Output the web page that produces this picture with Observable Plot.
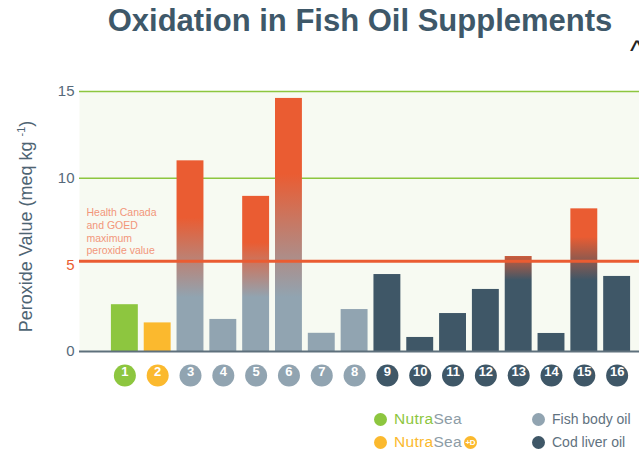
<!DOCTYPE html>
<html>
<head>
<meta charset="utf-8">
<script src="https://cdn.jsdelivr.net/npm/d3@7"></script>
<script src="https://cdn.jsdelivr.net/npm/@observablehq/plot@0.6"></script>
<style>
  body { margin: 0; background: #fff; font-family: "Liberation Sans", Arial, sans-serif; }
  #wrap { position: relative; width: 639px; height: 452px; overflow: hidden; }
  #title { position: absolute; left: 360px; top: 5px; transform: translateX(-50%); white-space: nowrap;
           font-size: 31px; line-height: 31px; font-weight: bold; color: #3e5869; }
  #caret { position: absolute; left: 630px; top: 36px; font-size: 30px; line-height: 30px; color: #222; }
  #chart { position: absolute; left: 0; top: 60px; }
  .lg { position: absolute; display: flex; align-items: center; height: 16px; white-space: nowrap; }
  .dot { display: inline-block; width: 13px; height: 13px; border-radius: 50%; margin-right: 7px; }
  .lt { font-size: 14px; color: #5f7280; }
  .brand { font-size: 15.5px; letter-spacing: 0.3px; }
  .sea { color: #8d9ca6; }
  .badge { display: inline-block; width: 13px; height: 13px; border-radius: 50%; background: #fbb92e; color: #fff;
           font-size: 8px; font-weight: bold; line-height: 13px; text-align: center; margin-left: 2px; letter-spacing: -0.3px; }
</style>
</head>
<body>
<div id="wrap">
  <div id="title"></div>
  <div id="caret">^</div>
  <div id="chart"></div>
  <div id="legend"></div>
</div>
<script>
// ---- data ----
const chartTitle = "Oxidation in Fish Oil Supplements";
const productIds = [1, 2, 3, 4, 5, 6, 7, 8, 9, 10, 11, 12, 13, 14, 15, 16];
const peroxideValues = [2.7, 1.65, 11.0, 1.85, 8.95, 14.6, 1.05, 2.42, 4.44, 0.81, 2.19, 3.58, 5.48, 1.04, 8.23, 4.33];
const productTypes = [
  "NutraSea", "NutraSea+D",
  "Fish body oil", "Fish body oil", "Fish body oil", "Fish body oil", "Fish body oil", "Fish body oil",
  "Cod liver oil", "Cod liver oil", "Cod liver oil", "Cod liver oil", "Cod liver oil", "Cod liver oil", "Cod liver oil", "Cod liver oil"
];
const yTicks = [0, 5, 10, 15];
const gridValues = [10, 15];
const limitValue = 5.2;
const limitTickValue = 5;
const limitNote = "Health Canada\nand GOED\nmaximum\nperoxide value";
const yLabelMain = "Peroxide Value (meq kg ";
const yLabelSup = "-1";
const yLabelEnd = ")";
const legendTypes = ["NutraSea", "NutraSea+D", "Fish body oil", "Cod liver oil"];

// ---- styles ----
const typeColors = {
  "NutraSea": "#8dc63f",
  "NutraSea+D": "#fbb92e",
  "Fish body oil": "#91a4b1",
  "Cod liver oil": "#3f5767"
};
const orange = "#ea5c32";
const tickGray = "#56697a";

document.getElementById("title").textContent = chartTitle;

const table = productIds.map((id, i) => ({
  id, value: peroxideValues[i], type: productTypes[i],
  fill: peroxideValues[i] > limitValue ? `url(#grad${id})` : typeColors[productTypes[i]]
}));

const chart = Plot.plot({
  width: 639,
  height: 330,
  marginLeft: 79,
  marginRight: 0,
  marginTop: 31,
  marginBottom: 39,
  style: { fontFamily: "Liberation Sans, Arial, sans-serif", background: "transparent", overflow: "visible" },
  x: { type: "band", domain: productIds, range: [105, 636], padding: 0.18, round: false, axis: null },
  y: { domain: [0, 15] },
  color: { type: "identity" },
  marks: [
    Plot.frame({ fill: "#f7faf2", stroke: "none" }),
    Plot.ruleY(gridValues, { stroke: "#8dc63f", strokeWidth: 1.5 }),
    Plot.barY(table, { x: "id", y: "value", fill: "fill" }),
    Plot.ruleY([0], { stroke: "#5e707c", strokeWidth: 2 }),
    Plot.ruleY([limitValue], { stroke: orange, strokeWidth: 3 }),
    Plot.axisY(yTicks, {
      tickSize: 0, tickPadding: 5, fontSize: 15, label: null,
      fill: d => d === limitTickValue ? orange : tickGray
    }),
    Plot.text([limitNote], {
      text: d => d, frameAnchor: "left", y: 6.95, dx: 7, textAnchor: "start",
      lineAnchor: "middle", fontSize: 10.5, lineHeight: 1.22, fill: "#f2967a"
    }),
    Plot.dot(table, { x: "id", frameAnchor: "bottom", dy: 24, r: 11, fill: d => typeColors[d.type] }),
    Plot.text(table, {
      x: "id", text: d => String(d.id), frameAnchor: "bottom", dy: 24,
      fill: "white", fontSize: 13, fontWeight: "bold"
    })
  ]
});

// gradients for bars above the limit
const ys = chart.scale("y");
const svg = d3.select(chart);
const defs = svg.insert("defs", ":first-child");
table.filter(d => d.value > limitValue).forEach(d => {
  const isCod = d.type === "Cod liver oil";
  const low = isCod ? 4.1 : 3.1;
  const high = isCod ? Math.max(0.8 * d.value, 5.8) : Math.max(0.7 * d.value, 5.6);
  const g = defs.append("linearGradient")
    .attr("id", `grad${d.id}`)
    .attr("gradientUnits", "userSpaceOnUse")
    .attr("x1", 0).attr("x2", 0)
    .attr("y1", ys.apply(high)).attr("y2", ys.apply(low));
  g.append("stop").attr("offset", 0).attr("stop-color", orange);
  g.append("stop").attr("offset", 1).attr("stop-color", typeColors[d.type]);
});

// y axis label with superscript
const lab = svg.append("text")
  .attr("transform", `translate(32,166.5) rotate(-90)`)
  .attr("text-anchor", "middle")
  .attr("font-size", 18)
  .attr("fill", "#4e6473");
lab.append("tspan").text(yLabelMain);
lab.append("tspan").attr("font-size", 11).attr("dy", -7).text(yLabelSup);
lab.append("tspan").attr("dy", 7).text(yLabelEnd);

document.getElementById("chart").appendChild(chart);

// ---- legend ----
const legend = document.getElementById("legend");
const legendPos = [
  { left: 374, top: 411 },
  { left: 374, top: 434 },
  { left: 532, top: 411 },
  { left: 532, top: 434 }
];
legendTypes.forEach((t, i) => {
  const item = document.createElement("div");
  item.className = "lg";
  item.style.left = legendPos[i].left + "px";
  item.style.top = legendPos[i].top + "px";
  const dot = document.createElement("span");
  dot.className = "dot";
  dot.style.background = typeColors[t];
  item.appendChild(dot);
  if (t.startsWith("NutraSea")) {
    const b = document.createElement("span");
    b.className = "brand";
    const n = document.createElement("span");
    n.textContent = "Nutra";
    n.style.color = typeColors[t];
    const s = document.createElement("span");
    s.className = "sea";
    s.textContent = "Sea";
    b.appendChild(n); b.appendChild(s);
    item.appendChild(b);
    if (t.endsWith("+D")) {
      const badge = document.createElement("span");
      badge.className = "badge";
      badge.textContent = "+D";
      item.appendChild(badge);
    }
  } else {
    const l = document.createElement("span");
    l.className = "lt";
    l.textContent = t;
    item.appendChild(l);
  }
  legend.appendChild(item);
});
</script>
</body>
</html>
